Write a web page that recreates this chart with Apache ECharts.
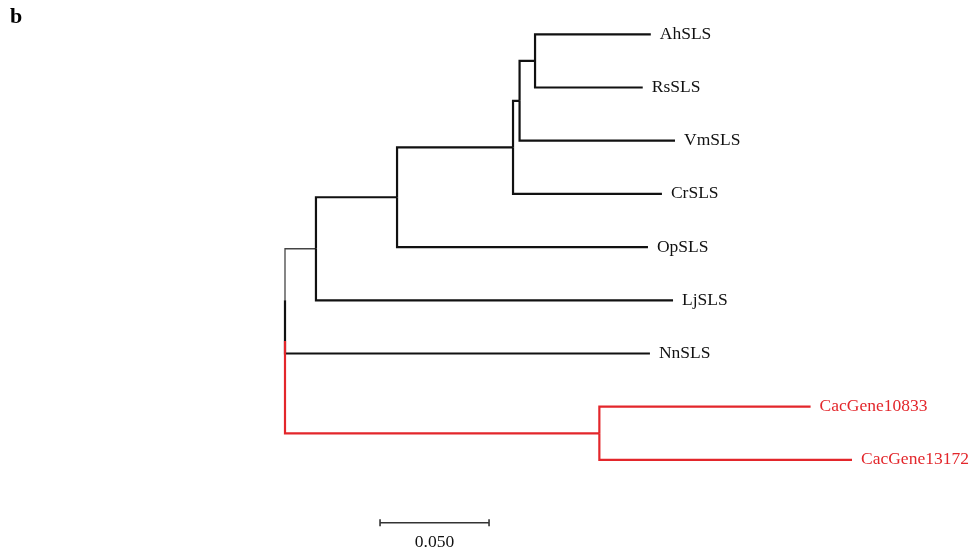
<!DOCTYPE html>
<html>
<head>
<meta charset="utf-8">
<script src="https://cdn.jsdelivr.net/npm/echarts@6/dist/echarts.min.js"></script>
<style>html,body{margin:0;padding:0;background:#fff}#c{width:969px;height:553px}</style>
</head>
<body>
<div id="c"></div>
<script>
// Leaves (top to bottom) and their distance from the root (substitutions/site)
const leafNames = ['AhSLS','RsSLS','VmSLS','CrSLS','OpSLS','LjSLS','NnSLS','CacGene10833','CacGene13172'];
const leafDepth = [0.1678,0.1641,0.1789,0.1729,0.1665,0.1780,0.1674,0.2411,0.2601];
// Internal nodes, their distance from the root and their children
const nodeNames = ['F','E','D','C','B','Cac','Root'];
const nodeDepth = [0.1147,0.1076,0.1046,0.0514,0.0142,0.1442,0.0];
const nodeChildren = [
  ['AhSLS','RsSLS'],
  ['F','VmSLS'],
  ['E','CrSLS'],
  ['D','OpSLS'],
  ['C','LjSLS'],
  ['CacGene10833','CacGene13172'],
  ['B','NnSLS','Cac']
];
const redClade = 'Cac';
const scaleBarLength = 0.05;
const scaleBarLabel = '0.050';
const panelLabel = 'b';

const BLACK = '#111111', RED = '#e3262b', THIN = '#444444';
const FONT = 'Liberation Serif, Times New Roman, serif';

// node table
const depth = {}, ypos = {}, kids = {};
leafNames.forEach((n, i) => { depth[n] = leafDepth[i]; ypos[n] = i; });
nodeNames.forEach((n, i) => { depth[n] = nodeDepth[i]; kids[n] = nodeChildren[i]; });
function getY(n) {
  if (ypos[n] !== undefined) return ypos[n];
  const c = kids[n];
  ypos[n] = (getY(c[0]) + getY(c[c.length - 1])) / 2;
  return ypos[n];
}
nodeNames.forEach(getY);

// red membership
const isRed = {};
(function mark(n){ isRed[n] = true; (kids[n] || []).forEach(mark); })(redClade);

const blackLines = [], redLines = [], thinLines = [];
nodeNames.forEach(p => {
  kids[p].forEach(c => {
    const coords = [[depth[p], ypos[p]], [depth[p], ypos[c]], [depth[c], ypos[c]]];
    if (p === 'Root' && c === 'B') {
      // upper part of the root stem and the short branch to B are drawn thin
      const lastLeafRow = ypos[kids['B'][kids['B'].length - 1]];
      blackLines.push({coords: [[depth[p], ypos[p]], [depth[p], lastLeafRow]]});
      thinLines.push({coords: [[depth[p], lastLeafRow], [depth[p], ypos[c]], [depth[c], ypos[c]]]});
    } else if (isRed[c]) {
      redLines.push({coords});
    } else {
      blackLines.push({coords});
    }
  });
});

const leafPoints = leafNames.map((n, i) => ({
  value: [leafDepth[i], i],
  name: n,
  label: {color: isRed[n] ? RED : '#111111'}
}));

// scale bar
const sbX0 = 0.0436, sbY = 9.18, tick = 0.065;
const sbCoords = [[sbX0, sbY - tick], [sbX0, sbY + tick], [sbX0, sbY], [sbX0 + scaleBarLength, sbY],
                  [sbX0 + scaleBarLength, sbY - tick], [sbX0 + scaleBarLength, sbY + tick]];

const chart = echarts.init(document.getElementById('c'), null, {renderer: 'canvas'});
chart.setOption({
  animation: false,
  backgroundColor: '#fff',
  grid: {left: 285, right: 30, top: 7.7, bottom: 0},
  xAxis: {type: 'value', min: 0, max: 0.3, show: false},
  yAxis: {type: 'value', min: -0.5, max: 9.75, inverse: true, show: false},
  graphic: [{
    type: 'text', x: 10, y: 17,
    style: {text: panelLabel, font: 'bold 22px ' + FONT, fill: '#000', verticalAlign: 'middle'}
  }],
  series: [
    {type: 'lines', coordinateSystem: 'cartesian2d', polyline: true, z: 2,
     lineStyle: {color: THIN, width: 1.3, opacity: 1, join: 'miter'}, data: thinLines},
    {type: 'lines', coordinateSystem: 'cartesian2d', polyline: true, z: 3,
     lineStyle: {color: BLACK, width: 2.2, opacity: 1, join: 'miter'}, data: blackLines},
    {type: 'lines', coordinateSystem: 'cartesian2d', polyline: true, z: 4,
     lineStyle: {color: RED, width: 2.2, opacity: 1, join: 'miter'}, data: redLines},
    {type: 'lines', coordinateSystem: 'cartesian2d', polyline: true, z: 4,
     lineStyle: {color: '#333333', width: 1.6, opacity: 1, join: 'miter'}, data: [{coords: sbCoords}]},
    {type: 'scatter', symbolSize: 0, z: 5, data: leafPoints, itemStyle: {opacity: 1},
     label: {show: true, position: 'right', distance: 9, formatter: '{b}',
             fontFamily: FONT, fontSize: 17.5}},
    {type: 'scatter', symbolSize: 0, z: 5, itemStyle: {opacity: 1},
     data: [{value: [sbX0 + scaleBarLength / 2, sbY], name: scaleBarLabel}],
     label: {show: true, position: 'bottom', distance: 11, formatter: '{b}',
             fontFamily: FONT, fontSize: 17.5, color: '#111111'}}
  ]
});
</script>
</body>
</html>
